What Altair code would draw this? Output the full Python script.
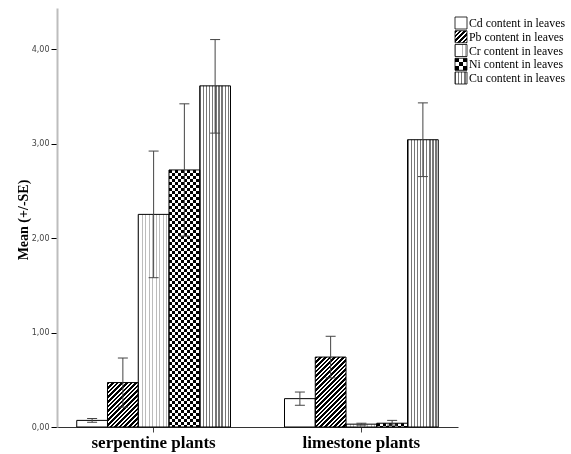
import math
import altair as alt

# ---------------- data ----------------
groups = ["serpentine plants", "limestone plants"]
metals = ["Cd", "Pb", "Cr", "Ni", "Cu"]
labels = ["Cd content in leaves", "Pb content in leaves", "Cr content in leaves",
          "Ni content in leaves", "Cu content in leaves"]

mean_serp = [0.07, 0.47, 2.25, 2.72, 3.61]
lo_serp = [0.05, 0.21, 1.58, 2.02, 3.11]
hi_serp = [0.09, 0.73, 2.92, 3.42, 4.10]

mean_lime = [0.30, 0.74, 0.03, 0.04, 3.04]
lo_lime = [0.23, 0.52, 0.02, 0.02, 2.65]
hi_lime = [0.37, 0.96, 0.04, 0.07, 3.43]

# ---------------- layout ----------------
PLOT_W, PLOT_H = 401, 419
YMAX = 4.434
PAD_INNER, PAD_OUTER = 0.26, 0.095
PPU = PLOT_H / YMAX
STEP = PLOT_W / (2 - PAD_INNER + 2 * PAD_OUTER)
BAR_W = STEP * (1 - PAD_INNER) / 5


def bands(length, period, on, c_on, c_off):
    stops = []
    pos = 0.0
    while pos < length:
        a = round(min(pos, length) / length, 5)
        b = round(min(pos + on, length) / length, 5)
        c = round(min(pos + period, length) / length, 5)
        stops += [{"offset": a, "color": c_on}, {"offset": b, "color": c_on},
                  {"offset": b, "color": c_off}, {"offset": c, "color": c_off}]
        pos += period
    return stops


def vstripes(w, period, on, c_on, c_off="#ffffff"):
    return {"gradient": "linear", "x1": 0, "y1": 0, "x2": 1, "y2": 0,
            "stops": bands(w, period, on, c_on, c_off)}


def hstripes(h, period, on, c_on, c_off="#ffffff"):
    h = max(h, 0.5)
    return {"gradient": "linear", "x1": 0, "y1": 0, "x2": 0, "y2": 1,
            "stops": bands(h, period, on, c_on, c_off)}


def diag(w, h, ph, frac, c_on="#000000", c_off="#ffffff"):
    h = max(h, 0.5)
    d = w * w + h * h
    x2 = w * (w + h) / d
    y2 = h * (w + h) / d
    L = (w + h) / math.sqrt(2)
    p = ph / math.sqrt(2)
    return {"gradient": "linear", "x1": 0, "y1": 0, "x2": round(x2, 5), "y2": round(y2, 5),
            "stops": bands(L, p, p * frac, c_on, c_off)}


def fills(metal, w, h, legend=False):
    if metal == "Cd":
        return "#ffffff", None
    if metal == "Pb":
        return diag(w, h, 4.6 if legend else 4.6, 0.55), None
    if metal == "Cr":
        return vstripes(w, 3.5, 1.0, "#b4b4b4" if legend else "#bcbcbc"), None
    if metal == "Ni":
        s = 4.0 if legend else 3.0
        return vstripes(w, 2 * s, s, "#000000"), hstripes(h, 2 * s, s, "#000000")
    return vstripes(w, 3.1, 1.3, "#777777"), None


records = []
for g, means, los, his in [(groups[0], mean_serp, lo_serp, hi_serp),
                           (groups[1], mean_lime, lo_lime, hi_lime)]:
    for m, v, lo, hi in zip(metals, means, los, his):
        fa, fb = fills(m, BAR_W, v * PPU)
        records.append({"group": g, "metal": m, "mean": v, "lo": lo, "hi": hi,
                        "fa": fa, "fb": fb})

leg_records = []
for m, lab in zip(metals, labels):
    fa, fb = fills(m, 12, 12, legend=True)
    leg_records.append({"metal": m, "label": lab, "fa": fa, "fb": fb})

data = alt.Data(values=records)
leg_data = alt.Data(values=leg_records)

# ---------------- encodings ----------------
x_enc = alt.X("group:N", sort=groups,
              scale=alt.Scale(domain=groups, paddingInner=PAD_INNER, paddingOuter=PAD_OUTER),
              axis=alt.Axis(title=None, labelAngle=0, labelFont="Liberation Serif",
                            labelFontSize=17, labelFontWeight="bold", labelColor="#000000",
                            labelPadding=2, tickSize=5, tickColor="#444444",
                            domainColor="#333333", domainWidth=1))
xo_enc = alt.XOffset("metal:N", sort=metals,
                     scale=alt.Scale(domain=metals, paddingInner=0, paddingOuter=0))
y_scale = alt.Scale(domain=[0, YMAX], nice=False, zero=True)
y_axis = alt.Axis(values=[0, 1, 2, 3, 4],
                  labelExpr="replace(format(datum.value, '.2f'), '.', ',')",
                  labelFont="DejaVu Sans", labelFontSize=8, labelColor="#444444",
                  labelPadding=2, tickSize=6, tickColor="#000000", tickWidth=1,
                  domainColor="#bdbdbd", domainWidth=2, grid=False,
                  title="Mean (+/-SE)", titleFont="Liberation Serif", titleFontSize=14,
                  titleFontWeight="bold", titleColor="#000000", titleAngle=-90,
                  titleX=-34, titleY=PLOT_H / 2 + 2, titleAlign="center", titleBaseline="middle")

base = alt.Chart(data)

bars = base.mark_bar(strokeWidth=0).encode(
    x=x_enc, xOffset=xo_enc,
    y=alt.Y("mean:Q", scale=y_scale, axis=y_axis),
    fill=alt.Fill("fa:N", scale=None, legend=None),
)
bars_blend = base.transform_filter(alt.datum.metal == "Ni").mark_bar(
    strokeWidth=0, blend="difference").encode(
    x=x_enc, xOffset=xo_enc, y=alt.Y("mean:Q", scale=y_scale),
    fill=alt.Fill("fb:N", scale=None, legend=None),
)
bars_stroke = base.mark_bar(fillOpacity=0, stroke="#000000", strokeWidth=1).encode(
    x=x_enc, xOffset=xo_enc, y=alt.Y("mean:Q", scale=y_scale),
)
err = base.mark_rule(color="#444444", strokeWidth=1).encode(
    x=x_enc, xOffset=xo_enc,
    y=alt.Y("lo:Q", scale=y_scale), y2="hi:Q",
)
caps = base.transform_fold(["lo", "hi"], as_=["k", "v"]).mark_tick(
    orient="horizontal", size=10, thickness=1, color="#444444", opacity=1).encode(
    x=x_enc, xOffset=xo_enc,
    y=alt.Y("v:Q", scale=y_scale),
)

main = alt.layer(bars, bars_blend, bars_stroke, err, caps)

# ---------------- legend ----------------
leg_y = alt.Y("label:N", sort=labels,
              scale=alt.Scale(type="point", domain=labels, range=[15, 70], padding=0),
              axis=None)
lbase = alt.Chart(leg_data)
sw = lbase.mark_square(size=144, opacity=1, strokeWidth=0).encode(
    x=alt.value(404), y=leg_y, fill=alt.Fill("fa:N", scale=None, legend=None))
sw_blend = lbase.transform_filter(alt.datum.metal == "Ni").mark_square(
    size=144, opacity=1, strokeWidth=0, blend="difference").encode(
    x=alt.value(404), y=leg_y, fill=alt.Fill("fb:N", scale=None, legend=None))
sw_stroke = lbase.mark_square(size=144, opacity=1, fillOpacity=0, filled=False,
                              stroke="#000000", strokeWidth=0.8).encode(
    x=alt.value(404), y=leg_y)
txt = lbase.mark_text(align="left", baseline="middle", font="Liberation Serif",
                      fontSize=11.8, color="#000000").encode(
    x=alt.value(412), y=leg_y, text="label:N")
legend = alt.layer(sw, sw_blend, sw_stroke, txt)

chart = alt.layer(main, legend).resolve_scale(y="independent").properties(
    width=PLOT_W, height=PLOT_H,
    padding={"left": 57, "top": 8, "right": 113, "bottom": 27},
    autosize=alt.AutoSizeParams(type="none"),
    background="#ffffff",
).configure_view(stroke=None)

chart.save("out.html", embed_options={"renderer": "svg", "actions": False})
